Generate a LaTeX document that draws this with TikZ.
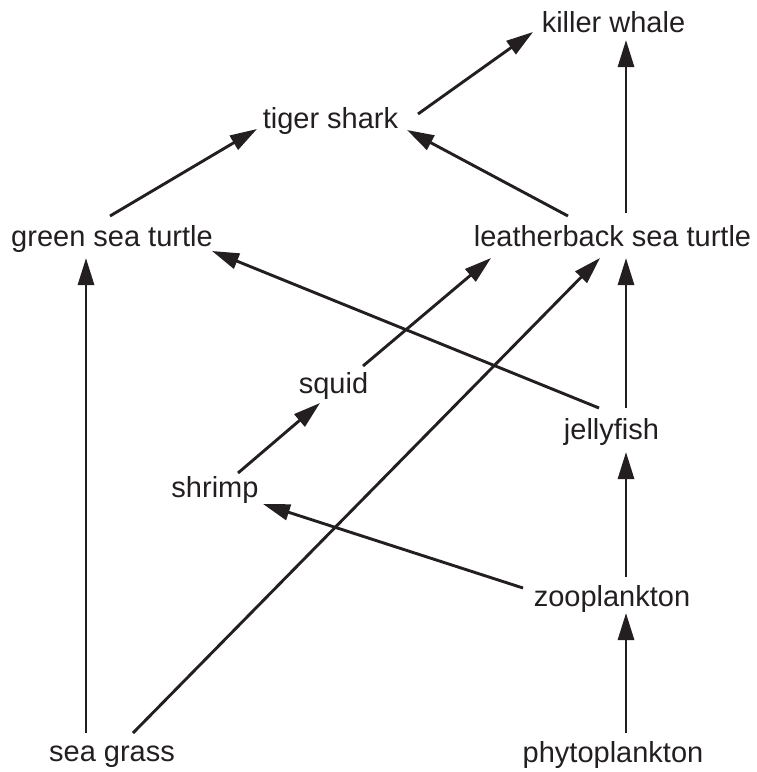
\documentclass[tikz,border=0pt]{standalone}
\usepackage{fontspec}
\setmainfont{Liberation Sans}
\usetikzlibrary{arrows.meta}
\definecolor{ink}{HTML}{231F20}
\begin{document}
\begin{tikzpicture}[x=1pt,y=-1pt,
  lbl/.style={anchor=base,inner sep=0pt,text=ink,font=\fontsize{29}{35}\selectfont},
  arr/.style={draw=ink,line width=2.9pt,-{Triangle[length=27pt,width=16pt]}}]
\useasboundingbox (0,0) rectangle (757,772);
\node[lbl] (kw)  at (613.5,32)  {killer whale};
\node[lbl] (ts)  at (330.5,128) {tiger shark};
\node[lbl] (gst) at (112,246)   {green sea turtle};
\node[lbl] (lst) at (612.5,246) {leatherback sea turtle};
\node[lbl] (sq)  at (333.5,393) {squid};
\node[lbl] (jf)  at (611.5,439) {jellyfish};
\node[lbl] (sh)  at (215,497)   {shrimp};
\node[lbl] (zo)  at (612,606)   {zooplankton};
\node[lbl] (sg)  at (112,761)   {sea grass};
\node[lbl] (ph)  at (613,762)   {phytoplankton};
\draw[arr] ([shift={(87.5,-14)}]ts.base) -- ([shift={(-80.5,0)}]kw.base);
\draw[arr] ([shift={(-44.5,-30)}]lst.base) -- ([shift={(76.5,2)}]ts.base);
\draw[arr] ([shift={(-2,-30)}]gst.base) -- ([shift={(-73.5,1)}]ts.base);
\draw[arr] ([shift={(13.5,-33)}]lst.base) -- ([shift={(12.5,8)}]kw.base);
\draw[arr] ([shift={(-26,-28)}]sg.base) -- ([shift={(-26,12)}]gst.base);
\draw[arr] ([shift={(21,-28)}]sg.base) -- ([shift={(-12.5,12)}]lst.base);
\draw[arr] ([shift={(29.5,-27)}]sq.base) -- ([shift={(-121.5,12)}]lst.base);
\draw[arr] ([shift={(23,-24)}]sh.base) -- ([shift={(-13.5,10)}]sq.base);
\draw[arr] ([shift={(-12.5,-31)}]jf.base) -- ([shift={(100,5)}]gst.base);
\draw[arr] ([shift={(14.5,-31)}]jf.base) -- ([shift={(13.5,12)}]lst.base);
\draw[arr] ([shift={(14,-29)}]zo.base) -- ([shift={(14.5,13)}]jf.base);
\draw[arr] ([shift={(-89,-18)}]zo.base) -- ([shift={(48,7)}]sh.base);
\draw[arr] ([shift={(13,-29)}]ph.base) -- ([shift={(14,7)}]zo.base);
\end{tikzpicture}
\end{document}
